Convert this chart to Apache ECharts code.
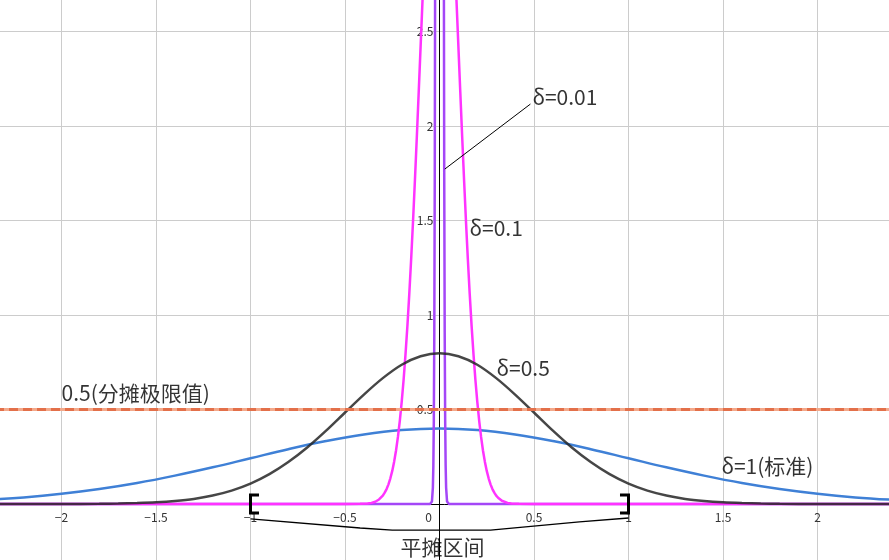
<!DOCTYPE html>
<html><head><meta charset="utf-8">
<script src="https://cdn.jsdelivr.net/npm/echarts@6/dist/echarts.min.js"></script>
<style>html,body{margin:0;padding:0;background:#fff}#c{width:889px;height:560px}</style>
</head><body><div id="c"></div><script>
// δ = 1 (standard)
const xDelta1 = [-2.4,-2.2,-2.0,-1.8,-1.6,-1.4,-1.2,-1.0,-0.8,-0.6,-0.4,-0.2,0,0.2,0.4,0.6,0.8,1.0,1.2,1.4,1.6,1.8,2.0,2.2,2.4];
const yDelta1 = [0.022,0.035,0.054,0.079,0.111,0.150,0.194,0.242,0.290,0.333,0.368,0.391,0.399,0.391,0.368,0.333,0.290,0.242,0.194,0.150,0.111,0.079,0.054,0.035,0.022];
// δ = 0.5
const xDelta05 = [-2.4,-2.0,-1.8,-1.7,-1.6,-1.5,-1.4,-1.3,-1.2,-1.1,-1.0,-0.9,-0.8,-0.7,-0.6,-0.5,-0.4,-0.3,-0.2,-0.1,0,0.1,0.2,0.3,0.4,0.5,0.6,0.7,0.8,0.9,1.0,1.1,1.2,1.3,1.4,1.5,1.6,1.7,1.8,2.0,2.4];
const yDelta05 = [0,0.0003,0.0012,0.0025,0.005,0.009,0.016,0.027,0.045,0.071,0.108,0.158,0.222,0.299,0.388,0.484,0.579,0.666,0.737,0.782,0.798,0.782,0.737,0.666,0.579,0.484,0.388,0.299,0.222,0.158,0.108,0.071,0.045,0.027,0.016,0.009,0.005,0.0025,0.0012,0.0003,0];
// δ = 0.1
const xDelta01 = [-2.4,-0.5,-0.42,-0.38,-0.36,-0.34,-0.33,-0.32,-0.31,-0.30,-0.29,-0.28,-0.27,-0.26,-0.25,-0.24,-0.23,-0.22,-0.21,-0.20,-0.19,-0.18,-0.17,-0.16,-0.15,-0.14,-0.13,-0.12,-0.11,-0.10,-0.09,-0.08,-0.04,0,0.04,0.08,0.09,0.10,0.11,0.12,0.13,0.14,0.15,0.16,0.17,0.18,0.19,0.20,0.21,0.22,0.23,0.24,0.25,0.26,0.27,0.28,0.29,0.30,0.31,0.32,0.33,0.34,0.36,0.38,0.42,0.5,2.4];
const yDelta01 = [0,0,0.001,0.003,0.006,0.012,0.017,0.024,0.033,0.044,0.060,0.079,0.104,0.136,0.175,0.224,0.283,0.355,0.440,0.540,0.656,0.790,0.940,1.109,1.295,1.497,1.714,1.942,2.179,2.420,2.661,2.897,3.683,3.989,3.683,2.897,2.661,2.420,2.179,1.942,1.714,1.497,1.295,1.109,0.940,0.790,0.656,0.540,0.440,0.355,0.283,0.224,0.175,0.136,0.104,0.079,0.060,0.044,0.033,0.024,0.017,0.012,0.006,0.003,0.001,0,0];
// δ = 0.01
const xDelta001 = [-2.4,-0.05,-0.04,-0.035,-0.0325,-0.03,-0.0275,-0.025,-0.0225,-0.02,-0.015,-0.01,0,0.01,0.015,0.02,0.0225,0.025,0.0275,0.03,0.0325,0.035,0.04,0.05,2.4];
const yDelta001 = [0,0,0.013,0.087,0.203,0.443,0.909,1.753,3.17,5.40,12.95,24.2,39.89,24.2,12.95,5.40,3.17,1.753,0.909,0.443,0.203,0.087,0.013,0,0];
// limit line
const limitX = [-2.5, 2.5];
const limitY = [0.5, 0.5];
const tickStep = 0.5;

const pairs = (xs, ys) => xs.map((x, i) => [x, ys[i]]);
const FONT = '"Noto Sans CJK SC", "Noto Sans", sans-serif';

const chart = echarts.init(document.getElementById('c'), null, {renderer: 'canvas'});
const curve = (name, xs, ys, color, extra) => Object.assign({
  name, type: 'line', data: pairs(xs, ys), showSymbol: false, symbol: 'none',
  clip: true, lineStyle: {color, width: 2.5}, silent: true
}, extra || {});

const annot = (x, y, text, align) => ({value: [x, y], text, label: {align: align || 'left'}});

chart.setOption({
  animation: false,
  backgroundColor: '#fff',
  grid: {left: -33, right: -23, top: -63, bottom: -38.5, containLabel: false, outerBoundsMode: 'none'},
  xAxis: {
    type: 'value', min: -2.5, max: 2.5, interval: tickStep, offset: -94.5,
    axisLine: {onZero: false, lineStyle: {color: '#000', width: 1}},
    axisTick: {show: false},
    axisLabel: {
      margin: 7, fontSize: 12, color: '#333', fontFamily: FONT,
      formatter: v => v === 0 ? '{z|0}' : String(v).replace('-', '−'),
      rich: {z: {padding: [0, 22, 0, 0], fontSize: 12, color: '#333', fontFamily: FONT}}
    },
    splitLine: {show: true, lineStyle: {color: '#cccccc', width: 1}}
  },
  yAxis: {
    type: 'value', min: -0.5, max: 3, interval: tickStep, offset: -472.5,
    axisLine: {onZero: false, lineStyle: {color: '#000', width: 1}},
    axisTick: {show: false},
    axisLabel: {
      margin: 6, fontSize: 12, color: '#333', fontFamily: FONT,
      formatter: v => v === 0 ? '' : String(v).replace('-', '−')
    },
    splitLine: {show: true, lineStyle: {color: '#cccccc', width: 1}}
  },
  series: [
    curve('δ=1', xDelta1, yDelta1, '#3f80d6', {smooth: 0.4}),
    curve('δ=0.01', xDelta001, yDelta001, '#a447f7'),
    curve('δ=0.1', xDelta01, yDelta01, '#ff33ff'),
    curve('δ=0.5', xDelta05, yDelta05, '#262626', {smooth: 0.3, lineStyle: {color: '#262626', width: 2.5, opacity: 0.85}}),
    curve('limit', limitX, limitY, '#f3a98b', {lineStyle: {color: '#f3a98b', width: 3}}),
    curve('limitDash', limitX, limitY, '#e3704a', {lineStyle: {color: '#e3704a', width: 3, type: [9, 5]}}),
    {type: 'line', data: [[-0.955, 0.048], [-1, 0.048], [-1, -0.048], [-0.955, -0.048]], symbol: 'none', silent: true,
     lineStyle: {color: '#000', width: 3, join: 'miter'}},
    {type: 'line', data: [[0.955, 0.048], [1, 0.048], [1, -0.048], [0.955, -0.048]], symbol: 'none', silent: true,
     lineStyle: {color: '#000', width: 3, join: 'miter'}},
    {type: 'line', data: [[-1, -0.079], [-0.42, -0.127], [-0.25, -0.138], [0.27, -0.138], [0.74, -0.095], [1, -0.074]],
     symbol: 'none', silent: true, lineStyle: {color: '#000', width: 1.3}},
    {type: 'line', data: [[0.481, 2.116], [0.028, 1.772]], symbol: 'none', silent: true,
     lineStyle: {color: '#000', width: 1}},
    {type: 'scatter', symbolSize: 0, silent: true, z: 10,
     data: [
       annot(0.492, 2.153, 'δ=0.01'),
       annot(0.159, 1.460, 'δ=0.1'),
       annot(0.302, 0.720, 'δ=0.5'),
       annot(1.492, 0.201, 'δ=1(标准)'),
       annot(-2.0, 0.587, '0.5(分摊极限值)'),
       annot(0.016, -0.228, '平摊区间', 'center')
     ],
     label: {show: true, position: [0, 0], verticalAlign: 'middle', fontSize: 21, color: '#000', fontFamily: FONT,
       formatter: p => p.data.text}
    }
  ]
});
</script></body></html>
